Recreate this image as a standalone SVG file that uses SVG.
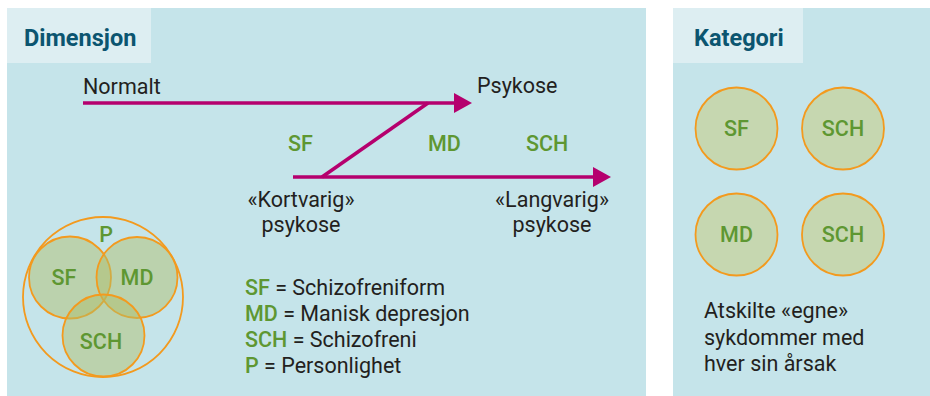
<svg xmlns="http://www.w3.org/2000/svg" width="930" height="396" viewBox="0 0 930 396">
<defs>
<style>
.panel{fill:#c5e4ea}
.tab{fill:#ddeef2}
.title{font-family:Roboto,"Liberation Sans",sans-serif;font-weight:700;font-size:23.5px;fill:#0b5570}
.txt{font-family:Roboto,"Liberation Sans",sans-serif;font-size:21.5px;fill:#231f20}
.g{font-family:Roboto,"Liberation Sans",sans-serif;font-weight:500;font-size:21.5px;fill:#5e9732}
.gc{fill:#5e9732}
.line{stroke:#b5006e;stroke-width:3.5;fill:none}
.venn{fill:#b0bf6a;fill-opacity:0.48;stroke:#f39a1e;stroke-width:1.8}
.cat{fill:#c6d7b0;stroke:#f39a1e;stroke-width:1.8}
</style>
</defs>
<rect x="0" y="0" width="930" height="396" fill="#ffffff"/>
<g id="panel-dimensjon">
<rect class="panel" x="7" y="8" width="639" height="388"/>
<rect class="tab" x="7" y="8" width="144" height="55"/>
<text class="title" x="24" y="46">Dimensjon</text>
</g>
<g id="panel-kategori">
<rect class="panel" x="673" y="8" width="257" height="388"/>
<rect class="tab" x="673" y="8" width="130" height="55"/>
<text class="title" x="694" y="46">Kategori</text>
</g>
<g id="connectors">
<line class="line" x1="83" y1="103" x2="455" y2="103"/>
<path d="M454,93 L472,103 L454,113 Z" fill="#b5006e"/>
<line class="line" x1="293" y1="177" x2="594" y2="177"/>
<path d="M593,167 L611,177 L593,187 Z" fill="#b5006e"/>
<line class="line" x1="322" y1="177" x2="428" y2="103"/>
</g>
<g id="labels-dimensjon">
<text class="txt" x="83" y="94">Normalt</text>
<text class="txt" x="477" y="93">Psykose</text>
<text class="g" x="288" y="151">SF</text>
<text class="g" x="428" y="151">MD</text>
<text class="g" x="526" y="151">SCH</text>
<text class="txt" x="301" y="207" text-anchor="middle">«Kortvarig»</text>
<text class="txt" x="301" y="232" text-anchor="middle">psykose</text>
<text class="txt" x="552" y="207" text-anchor="middle">«Langvarig»</text>
<text class="txt" x="552" y="232" text-anchor="middle">psykose</text>
</g>
<g id="venn">
<circle cx="103" cy="297" r="80" fill="none" stroke="#f39a1e" stroke-width="1.8"/>
<circle class="venn" cx="70" cy="277.5" r="41"/>
<circle class="venn" cx="137" cy="277.5" r="40.5"/>
<circle class="venn" cx="103.5" cy="335.5" r="41"/>
<text class="g" x="106" y="242" text-anchor="middle">P</text>
<text class="g" x="64" y="285" text-anchor="middle">SF</text>
<text class="g" x="137" y="285" text-anchor="middle">MD</text>
<text class="g" x="101" y="349" text-anchor="middle">SCH</text>
</g>
<g id="legend">
<text class="txt" x="245" y="295"><tspan class="gc" font-weight="500">SF</tspan> = Schizofreniform</text>
<text class="txt" x="245" y="321"><tspan class="gc" font-weight="500">MD</tspan> = Manisk depresjon</text>
<text class="txt" x="245" y="347"><tspan class="gc" font-weight="500">SCH</tspan> = Schizofreni</text>
<text class="txt" x="245" y="373"><tspan class="gc" font-weight="500">P</tspan> = Personlighet</text>
</g>
<g id="cat-sf">
<circle class="cat" cx="736.5" cy="128.5" r="41"/>
<text class="g" x="736.5" y="136" text-anchor="middle">SF</text>
</g>
<g id="cat-sch1">
<circle class="cat" cx="843" cy="128.5" r="41"/>
<text class="g" x="843" y="136" text-anchor="middle">SCH</text>
</g>
<g id="cat-md">
<circle class="cat" cx="736.5" cy="234.5" r="41"/>
<text class="g" x="736.5" y="242" text-anchor="middle">MD</text>
</g>
<g id="cat-sch2">
<circle class="cat" cx="843" cy="234.5" r="41"/>
<text class="g" x="843" y="242" text-anchor="middle">SCH</text>
</g>
<g id="cat-text">
<text class="txt" x="704" y="318">Atskilte «egne»</text>
<text class="txt" x="704" y="345">sykdommer med</text>
<text class="txt" x="704" y="371">hver sin årsak</text>
</g>
</svg>
